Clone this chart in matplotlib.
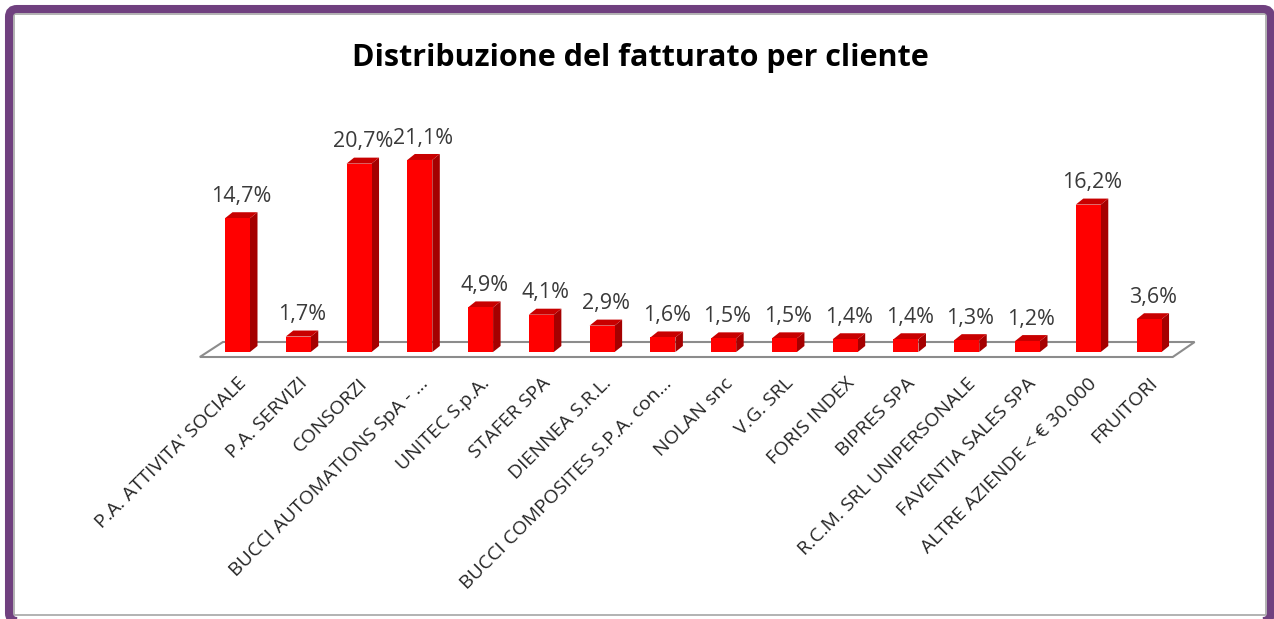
import matplotlib
matplotlib.use("Agg")
import matplotlib.pyplot as plt
import matplotlib.patches as mpatches
import matplotlib.transforms as mtransforms
import numpy as np

# data
clients = ["P.A. ATTIVITA' SOCIALE", "P.A. SERVIZI", "CONSORZI",
           "BUCCI AUTOMATIONS SpA - ...", "UNITEC S.p.A.", "STAFER SPA",
           "DIENNEA S.R.L.", "BUCCI COMPOSITES S.P.A. con...", "NOLAN snc",
           "V.G. SRL", "FORIS INDEX", "BIPRES SPA", "R.C.M. SRL UNIPERSONALE",
           "FAVENTIA SALES SPA", "ALTRE AZIENDE < € 30.000", "FRUITORI"]
shares = [14.7, 1.7, 20.7, 21.1, 4.9, 4.1, 2.9, 1.6, 1.5, 1.5, 1.4, 1.4,
          1.3, 1.2, 16.2, 3.6]
share_labels = [f"{v:.1f}%".replace(".", ",") for v in shares]

W, H = 1274, 619
plt.rcParams['font.family'] = ['Open Sans', 'DejaVu Sans']

fig = plt.figure(figsize=(W / 100, H / 100), dpi=100)
fig.patch.set_facecolor('white')

# axes: bottom at the floor front edge, spans full width
ax = fig.add_axes([0, (H - 357) / H, 1, 357 / H])
step = 60.77
x0 = 237.5
ax.set_xlim(-x0 / step, (W - x0) / step)
ppu = 9.1  # pixels per percent
ax.set_ylim(-5 / ppu, 352 / ppu)
for s in ax.spines.values():
    s.set_visible(False)
ax.set_yticks([])

x = np.arange(len(shares))
bw = 25 / step          # front face width
dx = 7.5 / step         # depth offset
dy = 6 / ppu

# floor
floor = mpatches.Polygon([(-0.62, -5 / ppu), (len(shares) - 1 + 0.39, -5 / ppu),
                          (len(shares) - 1 + 0.75, 10 / ppu), (-0.24, 10 / ppu)],
                         closed=True, facecolor='white', edgecolor='#8c8c8c',
                         linewidth=1.5, clip_on=False, zorder=1)
ax.add_patch(floor)

front_c, side_c, top_c = '#ff0000', '#a50000', '#c80000'
for xi, v in zip(x, shares):
    l, r = xi - bw / 2, xi + bw / 2
    ax.add_patch(mpatches.Polygon([(r, 0), (r + dx, dy), (r + dx, v + dy), (r, v)],
                                  facecolor=side_c, edgecolor='none', zorder=2))
    ax.add_patch(mpatches.Polygon([(l, v), (r, v), (r + dx, v + dy), (l + dx, v + dy)],
                                  facecolor=top_c, edgecolor='none', zorder=2))
    ax.bar(xi, v, width=bw, color=front_c, zorder=3)

for xi, v, lab in zip(x, shares, share_labels):
    ax.annotate(lab, (xi + dx / 2, v + dy), xytext=(0, 7.5), textcoords='offset points',
                ha='center', va='baseline', fontsize=15.5, color='#3a3a3a')

ax.set_xticks(x)
ax.set_xticklabels(clients, rotation=45, ha='right', va='center',
                   rotation_mode='anchor', fontsize=14, color='#262626')
ax.tick_params(axis='x', length=0, pad=17)
shift = mtransforms.ScaledTranslation(6 / 100, 0, fig.dpi_scale_trans)
for t in ax.get_xticklabels():
    t.set_transform(t.get_transform() + shift)

fig.text(640 / W, 1 - 58 / H, "Distribuzione del fatturato per cliente",
         ha='center', va='center', fontsize=22, fontweight='bold', color='black')

# purple frame
frame = mpatches.FancyBboxPatch((9 / 100, -2 / 100), 1262 / 100, 612 / 100,
                                boxstyle='round,pad=0,rounding_size=0.08',
                                transform=fig.dpi_scale_trans, facecolor='none',
                                edgecolor='#70407f', linewidth=5.8)
shadow = mpatches.Rectangle((14 / 100, 4 / 100), 1252 / 100, 601 / 100,
                            transform=fig.dpi_scale_trans, facecolor='none',
                            edgecolor='#a6a6a6', linewidth=1.2)
fig.add_artist(shadow)
fig.add_artist(frame)

fig.savefig("out.png", dpi=100)
